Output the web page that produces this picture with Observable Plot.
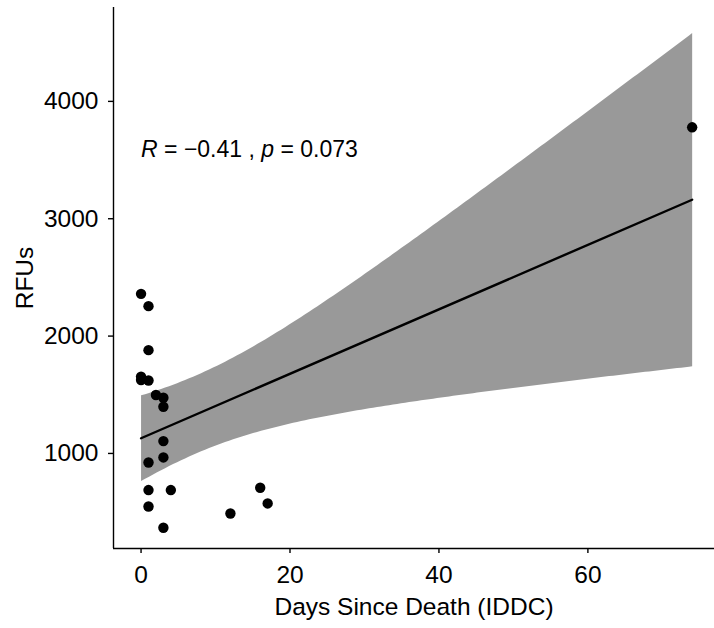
<!DOCTYPE html>
<html><head><meta charset="utf-8">
<script src="https://cdn.jsdelivr.net/npm/d3@7"></script>
<script src="https://cdn.jsdelivr.net/npm/@observablehq/plot@0.6"></script>
<style>
body{margin:0;background:#fff;}
#chart svg{font-family:"Liberation Sans",Arial,sans-serif;}
</style></head><body><div id="chart"></div>
<script>
// Data
const days = [0, 1, 1, 0, 0, 1, 2, 3, 3, 3, 1, 3, 1, 4, 1, 3, 12, 16, 17, 74];
const rfus = [2360, 2255, 1880, 1655, 1625, 1622, 1498, 1475, 1398, 1105, 923, 966, 688, 688, 548, 367, 488, 708, 574, 3779];
const xTicks = [0, 20, 40, 60];
const yTicks = [1000, 2000, 3000, 4000];
const xDomain = [-3.7, 77];
const yDomain = [190, 4800];
const xLabel = "Days Since Death (IDDC)";
const yLabel = "RFUs";
const corParts = [["R", true], [" = −0.41 , ", false], ["p", true], [" = 0.073", false]];
const corAnchor = [{days: 0, rfus: 3590}];

const data = days.map((d, i) => ({days: d, rfus: rfus[i]}));
const corText = corParts.map(p => p[0]).join("");

const chart = Plot.plot({
  width: 714, height: 628,
  marginLeft: 113, marginRight: 0, marginTop: 7, marginBottom: 80,
  style: {fontFamily: "'Liberation Sans', Arial, sans-serif", fontSize: "24px", color: "black", background: "white"},
  x: {domain: xDomain},
  y: {domain: yDomain},
  marks: [
    Plot.linearRegressionY(data, {x: "days", y: "rfus", ci: 0.95, fill: "#999999", fillOpacity: 1, stroke: "black", strokeWidth: 2.4}),
    Plot.dot(data, {x: "days", y: "rfus", r: 5.2, fill: "black", stroke: "none"}),
    Plot.ruleX([xDomain[0]], {stroke: "black", strokeWidth: 1.4}),
    Plot.ruleY([yDomain[0]], {stroke: "black", strokeWidth: 1.4}),
    Plot.axisX({ticks: xTicks, tickSize: 5, tickPadding: 12, fontSize: 24.5, strokeWidth: 1.4,
      label: xLabel, labelAnchor: "center", labelOffset: 66, labelArrow: "none", tickFormat: "d"}),
    Plot.axisY({ticks: yTicks, tickSize: 5, tickPadding: 10, fontSize: 24.5, strokeWidth: 1.4,
      label: yLabel, labelAnchor: "center", labelOffset: 98, labelArrow: "none", tickFormat: "d"}),
    Plot.text(corAnchor, {x: "days", y: "rfus", text: () => corText, textAnchor: "start", fontSize: 23, fill: "black"})
  ]
});
document.getElementById("chart").appendChild(chart);

// italicise R and p in the correlation label
d3.select(chart).selectAll('g[aria-label="text"] text').each(function() {
  const t = d3.select(this);
  t.text("");
  corParts.forEach(([s, it]) => {
    const ts = t.append("tspan").text(s);
    if (it) ts.attr("font-style", "italic");
  });
});
</script></body></html>
